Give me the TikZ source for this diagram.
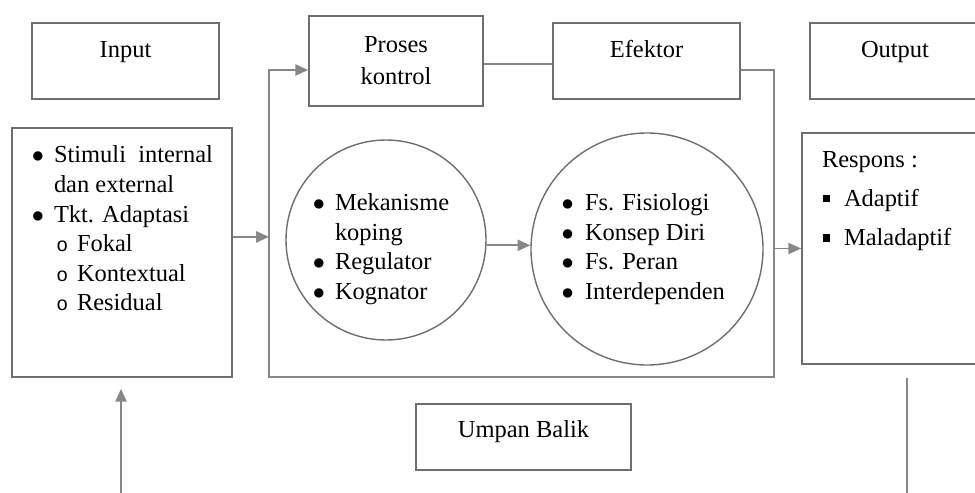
\documentclass[tikz,border=0pt]{standalone}
\usepackage{fontspec}
\setmainfont{Liberation Serif}
\setmonofont{Liberation Mono}
\usetikzlibrary{arrows.meta}
\definecolor{abu}{RGB}{110,110,110}
\definecolor{abumuda}{RGB}{135,135,135}
% daftar berbutir: {label}{leftmargin}{labelsep}
\newenvironment{butir}[3]{\begin{list}{#1}{%
  \setlength{\leftmargin}{#2}\setlength{\labelsep}{#3}%
  \setlength{\labelwidth}{\dimexpr#2-#3\relax}%
  \setlength{\itemsep}{0pt}\setlength{\parsep}{0pt}%
  \setlength{\topsep}{0pt}\setlength{\partopsep}{0pt}}}{\end{list}}
\newcommand{\titik}{\llap{$\bullet$}}
\newcommand{\bulat}{\llap{\fontsize{14pt}{14pt}\ttfamily o}}
\newcommand{\kotakkecil}{\rule[3pt]{5pt}{5pt}}
\begin{document}
\begin{tikzpicture}[font=\fontsize{17.4pt}{21pt}\selectfont,
  kotak/.style={draw=abu, line width=1.2pt, inner sep=0pt},
  judul/.style={kotak, text height=0.875cm, text depth=1.025cm},
  lingkaran/.style={circle, draw=abu, line width=1pt, inner sep=0pt},
  garis/.style={draw=abumuda, line width=1.3pt},
  panah/.style={garis, -{Triangle[length=0.32cm,width=0.28cm]}}]
  \useasboundingbox (0,0) rectangle (24.375,-12.3);
  \clip (0,0) rectangle (24.375,-12.3);
  % baris atas
  \node[judul, minimum width=4.675cm] (input) at (3.1375,-1.525) {Input};
  \node[kotak, minimum width=4.35cm, minimum height=2.25cm, align=center] (proses) at (9.9,-1.525) {Proses\\[1.7pt]kontrol};
  \node[judul, minimum width=4.675cm] (efektor) at (16.1625,-1.525) {Efektor};
  \node[judul, minimum width=4.25cm] (output) at (22.375,-1.525) {Output};
  % kotak stimulus
  \node[kotak] (stimulus) at (3.05,-6.3125) {\begin{minipage}[t][6.225cm][t]{5.5cm}
    \vspace*{0.45cm}
    \begin{butir}{\titik}{1.05cm}{0.25cm}
      \item Stimuli\enspace internal\\ dan external
      \item Tkt. Adaptasi
      \begin{butir}{\bulat}{0.575cm}{0.22cm}
        \item Fokal
        \item Kontextual
        \item Residual
      \end{butir}
    \end{butir}
  \end{minipage}};
  % lingkaran
  \node[lingkaran, minimum size=5cm] (mekanisme) at (9.65,-6) {\begin{minipage}{3.55cm}
    \vspace*{0.45cm}
    \begin{butir}{\titik}{0.5cm}{0.25cm}
      \item Mekanisme\\ koping
      \item Regulator
      \item Kognator
    \end{butir}
  \end{minipage}};
  \node[lingkaran, minimum size=5.8cm] (mode) at (16.175,-6.225) {\begin{minipage}{4.15cm}
    \begin{butir}{\titik}{0.525cm}{0.28cm}
      \item Fs. Fisiologi
      \item Konsep Diri
      \item Fs. Peran
      \item Interdependen
    \end{butir}
  \end{minipage}};
  % kotak respons
  \node[kotak] (respons) at (22.525,-6.2125) {\begin{minipage}[t][5.775cm][t]{4.95cm}
    \vspace*{0.45cm}
    \hspace*{0.5cm}Respons :\par
    \vspace{7pt}
    \begin{butir}{\kotakkecil}{1.05cm}{0.35cm}
      \setlength{\itemsep}{7pt}
      \item Adaptif
      \item Maladaptif
    \end{butir}
  \end{minipage}};
  \node[kotak, minimum width=5.375cm, text height=0.825cm, text depth=0.825cm] (umpan) at (13.0875,-10.925) {Umpan Balik};
  % bingkai proses
  \coordinate (kiriatas) at (6.725,-1.75);
  \coordinate (kananbawah) at (19.35,-9.425);
  \draw[garis] ([yshift=-0.075cm]proses.east) -- ([yshift=-0.075cm]efektor.west);
  \draw[panah] ([yshift=-0.225cm]efektor.east) -| (kananbawah) -| (kiriatas) -- (kiriatas -| proses.west);
  % panah
  \coordinate (masuk) at ([yshift=0.39cm]stimulus.east);
  \draw[panah] (masuk) -- (masuk -| kiriatas);
  \draw[panah] (mekanisme.357) -- (mekanisme.357 -| mode.west);
  \draw[panah] (respons.west -| kananbawah) -- (respons.west);
  \coordinate (bawahkiri) at (3.025,-12.6);
  \draw[panah, shorten >=0.275cm] (bawahkiri) -- (bawahkiri |- stimulus.south);
  \coordinate (bawahkanan) at (22.675,-12.6);
  \draw[garis, shorten >=0.325cm] (bawahkanan) -- (bawahkanan |- respons.south);
\end{tikzpicture}
\end{document}
